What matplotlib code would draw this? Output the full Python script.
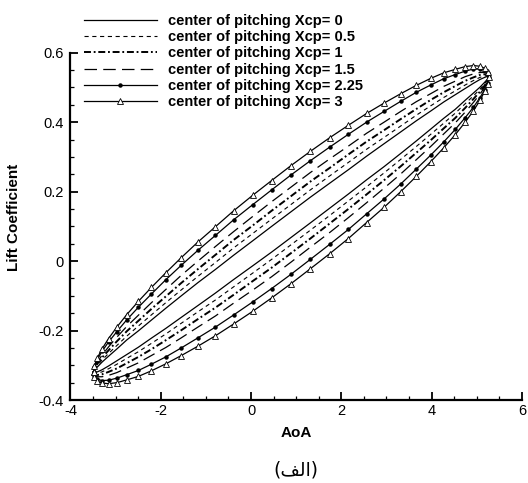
import numpy as np
import matplotlib
matplotlib.use("Agg")
import matplotlib.pyplot as plt
from matplotlib.ticker import MultipleLocator, FuncFormatter

plt.rcParams['font.family'] = ['Liberation Sans', 'DejaVu Sans']
plt.rcParams['axes.unicode_minus'] = False
plt.rcParams['lines.scale_dashes'] = False

# Angle of attack samples over one pitching cycle (min -> max)
aoa = [-3.490, -3.469, -3.406, -3.302, -3.157, -2.973, -2.753, -2.497, -2.209,
       -1.891, -1.546, -1.177, -0.789, -0.385, 0.032, 0.456, 0.885, 1.314,
       1.739, 2.155, 2.559, 2.947, 3.316, 3.661, 3.979, 4.267, 4.523, 4.743,
       4.927, 5.072, 5.176, 5.239, 5.260]

# Lift coefficient, upper and lower branch of each hysteresis loop
cl_up_x0 = [-0.320, -0.314, -0.305, -0.291, -0.274, -0.253, -0.227, -0.201, -0.170, -0.136, -0.100,
            -0.062, -0.024, 0.017, 0.058, 0.100, 0.142, 0.184, 0.224, 0.263, 0.302, 0.338,
            0.372, 0.404, 0.432, 0.458, 0.479, 0.497, 0.512, 0.523, 0.529, 0.532, 0.530]
cl_lo_x0 = [-0.320, -0.322, -0.319, -0.313, -0.302, -0.287, -0.269, -0.248, -0.222, -0.194, -0.162,
            -0.128, -0.092, -0.053, -0.014, 0.026, 0.068, 0.110, 0.152, 0.193, 0.234, 0.272,
            0.310, 0.346, 0.380, 0.411, 0.437, 0.463, 0.484, 0.501, 0.515, 0.524, 0.530]

cl_up_x05 = [-0.320, -0.312, -0.301, -0.285, -0.266, -0.243, -0.216, -0.187, -0.155, -0.120, -0.083,
             -0.044, -0.004, 0.038, 0.079, 0.121, 0.163, 0.205, 0.245, 0.284, 0.322, 0.356,
             0.389, 0.420, 0.447, 0.471, 0.490, 0.507, 0.520, 0.529, 0.533, 0.534, 0.530]
cl_lo_x05 = [-0.320, -0.324, -0.323, -0.319, -0.310, -0.297, -0.280, -0.261, -0.237, -0.210, -0.179,
             -0.146, -0.112, -0.074, -0.035, 0.005, 0.047, 0.089, 0.131, 0.173, 0.214, 0.254,
             0.293, 0.330, 0.365, 0.397, 0.426, 0.453, 0.476, 0.495, 0.511, 0.522, 0.530]

cl_up_x1 = [-0.320, -0.310, -0.296, -0.278, -0.257, -0.231, -0.202, -0.172, -0.138, -0.102, -0.063,
            -0.023, 0.018, 0.061, 0.102, 0.145, 0.187, 0.229, 0.268, 0.307, 0.344, 0.377,
            0.409, 0.438, 0.464, 0.486, 0.504, 0.519, 0.529, 0.536, 0.538, 0.536, 0.530]
cl_lo_x1 = [-0.320, -0.326, -0.328, -0.326, -0.319, -0.309, -0.294, -0.276, -0.254, -0.228, -0.199,
            -0.167, -0.134, -0.097, -0.058, -0.019, 0.023, 0.065, 0.108, 0.150, 0.192, 0.233,
            0.273, 0.312, 0.348, 0.382, 0.412, 0.441, 0.467, 0.488, 0.506, 0.520, 0.530]

cl_up_x15 = [-0.320, -0.307, -0.291, -0.271, -0.247, -0.219, -0.188, -0.156, -0.120, -0.082, -0.041,
             0.000, 0.042, 0.085, 0.128, 0.171, 0.213, 0.255, 0.294, 0.331, 0.368, 0.400,
             0.431, 0.459, 0.482, 0.503, 0.518, 0.531, 0.539, 0.543, 0.543, 0.539, 0.530]
cl_lo_x15 = [-0.320, -0.329, -0.333, -0.333, -0.329, -0.321, -0.308, -0.293, -0.272, -0.249, -0.221,
             -0.190, -0.158, -0.121, -0.084, -0.045, -0.003, 0.040, 0.082, 0.125, 0.168, 0.210,
             0.251, 0.292, 0.330, 0.366, 0.398, 0.429, 0.457, 0.481, 0.501, 0.517, 0.530]

cl_up_x225 = [-0.320, -0.304, -0.284, -0.260, -0.233, -0.203, -0.169, -0.133, -0.095, -0.054, -0.012,
              0.031, 0.074, 0.119, 0.162, 0.205, 0.248, 0.289, 0.328, 0.365, 0.400, 0.431,
              0.460, 0.486, 0.507, 0.525, 0.537, 0.547, 0.553, 0.554, 0.550, 0.542, 0.530]
cl_lo_x225 = [-0.320, -0.332, -0.340, -0.344, -0.343, -0.337, -0.327, -0.315, -0.297, -0.276, -0.250,
              -0.221, -0.190, -0.155, -0.118, -0.079, -0.038, 0.005, 0.048, 0.091, 0.136, 0.179,
              0.222, 0.265, 0.305, 0.343, 0.379, 0.413, 0.443, 0.471, 0.494, 0.514, 0.530]

cl_up_x3 = [-0.320, -0.301, -0.279, -0.253, -0.223, -0.190, -0.154, -0.116, -0.076, -0.034, 0.010,
            0.055, 0.099, 0.145, 0.189, 0.232, 0.275, 0.316, 0.355, 0.391, 0.425, 0.455,
            0.482, 0.506, 0.526, 0.542, 0.552, 0.560, 0.563, 0.561, 0.555, 0.545, 0.530]
cl_lo_x3 = [-0.320, -0.335, -0.345, -0.351, -0.353, -0.350, -0.342, -0.332, -0.316, -0.296, -0.272,
            -0.245, -0.215, -0.181, -0.145, -0.106, -0.065, -0.022, 0.021, 0.065, 0.111, 0.155,
            0.200, 0.244, 0.286, 0.326, 0.364, 0.400, 0.433, 0.463, 0.489, 0.511, 0.530]

labels = ["center of pitching Xcp= 0", "center of pitching Xcp= 0.5",
          "center of pitching Xcp= 1", "center of pitching Xcp= 1.5",
          "center of pitching Xcp= 2.25", "center of pitching Xcp= 3"]

uppers = [cl_up_x0, cl_up_x05, cl_up_x1, cl_up_x15, cl_up_x225, cl_up_x3]
lowers = [cl_lo_x0, cl_lo_x05, cl_lo_x1, cl_lo_x15, cl_lo_x225, cl_lo_x3]

styles = [
    dict(ls='-', lw=0.9),
    dict(ls=(0, (3.0, 2.6)), lw=0.8),
    dict(ls=(0, (5.0, 2.0, 1.3, 2.0)), lw=1.4),
    dict(ls=(0, (9.0, 4.5)), lw=0.9),
    dict(ls='-', lw=0.9, marker='o', ms=2.2, mfc='black', mec='black'),
    dict(ls='-', lw=0.9, marker='^', ms=4.0, mfc='white', mec='black', mew=0.6),
]

fig = plt.figure(figsize=(5.28, 4.83), dpi=100)
ax = fig.add_axes([0.1335, 0.1718, 0.855, 0.7191])

a = np.array(aoa)
handles = []
for up, lo, st, lab in zip(uppers, lowers, styles, labels):
    x = np.concatenate([a, a[-2::-1]])
    y = np.concatenate([np.array(lo), np.array(up)[-2::-1]])
    h, = ax.plot(x, y, color='black', label=lab, **st)
    handles.append(h)

ax.set_xlim(-4, 6)
ax.set_ylim(-0.4, 0.6)
for side in ('top', 'right'):
    ax.spines[side].set_visible(False)
for side in ('left', 'bottom'):
    ax.spines[side].set_linewidth(1.6)

ax.xaxis.set_major_locator(MultipleLocator(2))
ax.xaxis.set_minor_locator(MultipleLocator(0.5))
ax.yaxis.set_major_locator(MultipleLocator(0.2))
ax.yaxis.set_minor_locator(MultipleLocator(0.05))
fmt = FuncFormatter(lambda v, p: ('%g' % round(v, 3)) if abs(v) > 1e-9 else '0')
ax.xaxis.set_major_formatter(fmt)
ax.yaxis.set_major_formatter(fmt)
ax.tick_params(which='major', direction='in', length=6, width=1.3, labelsize=10.5, pad=3)
ax.tick_params(which='minor', direction='in', length=3, width=0.9)
ax.tick_params(axis='y', which='major', pad=5)

ax.set_xlabel('AoA', fontsize=11, fontweight='bold')
ax.xaxis.set_label_coords(0.5, -0.075)
ax.set_ylabel('Lift Coefficient', fontsize=11, fontweight='bold')
ax.yaxis.set_label_coords(-0.11, 0.525)

leg = fig.legend(handles=handles, loc='upper left', bbox_to_anchor=(0.145, 0.986),
                 frameon=False, prop={'weight': 'bold', 'size': 10.5},
                 handlelength=5.0, handletextpad=0.8, labelspacing=0.15,
                 borderpad=0, numpoints=1)

# Persian caption beneath the chart: "(الف)" written in visual order with presentation forms
fig.text(0.56, 0.027, '(\uFED2\uFEDF\uFE8D)', ha='center', va='center',
         fontsize=13.5, family='DejaVu Sans')

fig.savefig('out.png', dpi=100)
